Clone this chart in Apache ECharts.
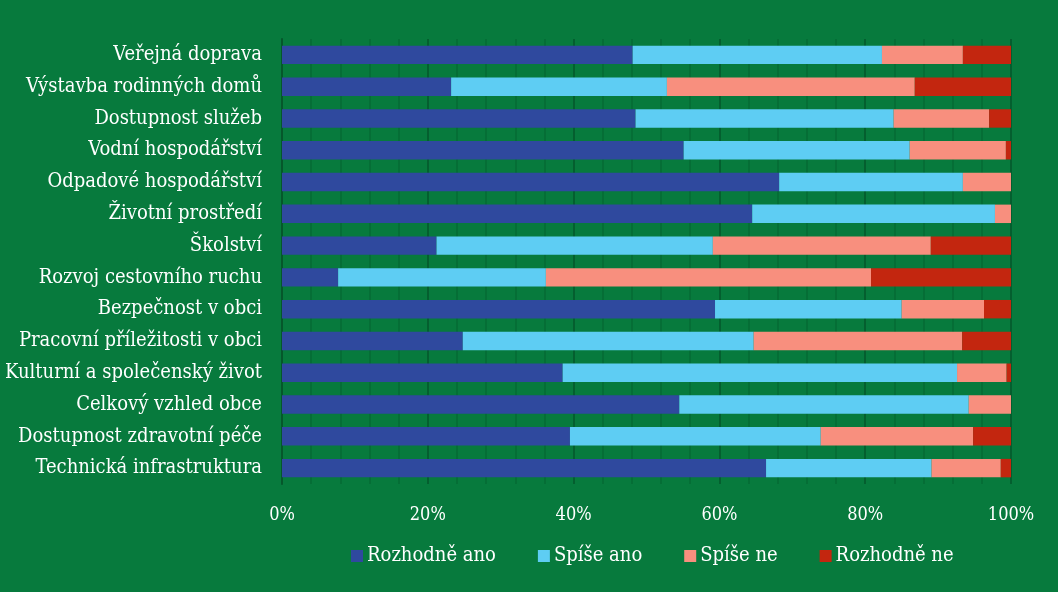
<!DOCTYPE html>
<html>
<head>
<meta charset="utf-8">
<script src="https://cdn.jsdelivr.net/npm/echarts@6/dist/echarts.min.js"></script>
<style>
html,body{margin:0;padding:0;background:#077a3d;}
#c{width:1058px;height:592px;}
</style>
</head>
<body>
<div id="c"></div>
<script>
const categories = [
  "Veřejná doprava",
  "Výstavba rodinných domů",
  "Dostupnost služeb",
  "Vodní hospodářství",
  "Odpadové hospodářství",
  "Životní prostředí",
  "Školství",
  "Rozvoj cestovního ruchu",
  "Bezpečnost v obci",
  "Pracovní příležitosti v obci",
  "Kulturní a společenský život",
  "Celkový vzhled obce",
  "Dostupnost zdravotní péče",
  "Technická infrastruktura"
];
const seriesNames = ["Rozhodně ano", "Spíše ano", "Spíše ne", "Rozhodně ne"];
const rozhodneAno = [48.1, 23.2, 48.5, 55.1, 68.2, 64.5, 21.2, 7.7, 59.4, 24.8, 38.5, 54.5, 39.5, 66.4];
const spiseAno    = [34.2, 29.6, 35.4, 31.0, 25.2, 33.3, 37.9, 28.5, 25.6, 39.9, 54.1, 39.7, 34.4, 22.7];
const spiseNe     = [11.1, 34.0, 13.1, 13.2,  6.6,  2.2, 29.9, 44.6, 11.3, 28.6,  6.8,  5.8, 20.9,  9.5];
const rozhodneNe  = [ 6.6, 13.2,  3.0,  0.7,  0.0,  0.0, 11.0, 19.2,  3.7,  6.7,  0.6,  0.0,  5.2,  1.4];
const xTicks = [0, 20, 40, 60, 80, 100];

const colors = ["#2f499e", "#5ecdf3", "#f88f7e", "#c3260f"];
const font = "'DejaVu Serif Condensed', 'DejaVu Serif', serif";
const dataSets = [rozhodneAno, spiseAno, spiseNe, rozhodneNe];

const chart = echarts.init(document.getElementById('c'), null, {renderer: 'canvas'});
chart.setOption({
  backgroundColor: '#077a3d',
  animation: false,
  textStyle: {fontFamily: font},
  grid: {left: 282, right: 47, top: 39, bottom: 108, containLabel: false},
  legend: {
    bottom: 21,
    left: 346,
    itemWidth: 12,
    itemHeight: 12,
    itemGap: 42,
    icon: 'rect',
    textStyle: {color: '#ffffff', fontFamily: font, fontSize: 20, padding: [0, 0, 0, -1]},
    data: seriesNames
  },
  xAxis: {
    type: 'value',
    min: xTicks[0],
    max: xTicks[xTicks.length - 1],
    interval: 20,
    axisLine: {show: false},
    axisTick: {show: false},
    minorTick: {show: false},
    axisLabel: {color: '#ffffff', fontSize: 18, fontFamily: font, margin: 22, formatter: v => v + '%'},
    splitLine: {show: true, lineStyle: {color: '#05572b', width: 1.5}},
    minorSplitLine: {show: true, lineStyle: {color: '#066b35', width: 1.5}},
    splitNumber: 8
  },
  yAxis: {
    type: 'category',
    inverse: true,
    data: categories,
    axisLine: {show: true, lineStyle: {color: '#05572b', width: 2}},
    axisTick: {show: false},
    axisLabel: {color: '#ffffff', fontSize: 20, fontFamily: font, margin: 20}
  },
  series: dataSets.map((d, i) => ({
    name: seriesNames[i],
    type: 'bar',
    stack: 'total',
    data: d,
    barCategoryGap: '42%',
    itemStyle: {color: colors[i]}
  }))
});
</script>
</body>
</html>
